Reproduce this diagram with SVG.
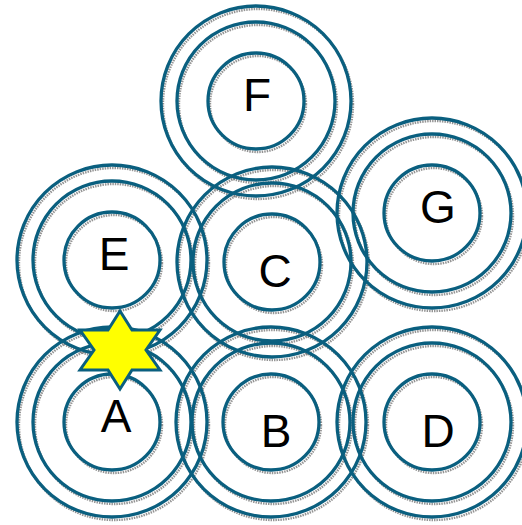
<svg xmlns="http://www.w3.org/2000/svg" xmlns:xlink="http://www.w3.org/1999/xlink" width="522" height="525" viewBox="0 0 522 525">
<style>
.ring{fill:none;stroke:#0a5f7f;stroke-width:3.3}
.shadow{fill:none;stroke:#666;stroke-width:2.4;stroke-opacity:0.7;stroke-dasharray:1.5 1}
.label{font-family:"Liberation Sans",Arial,sans-serif;font-size:46px;fill:#000;text-anchor:middle}
.star{fill:#ffff00;stroke:#0a5f7f;stroke-width:3;stroke-linejoin:miter}
</style>
<defs>
<g id="rings">
<circle r="95"/>
<circle r="79"/>
<circle r="48"/>
</g>
</defs>
<rect width="522" height="525" fill="#fff"/>
<g id="shadows">
<use xlink:href="#rings" class="shadow" transform="translate(114,425)"/>
<use xlink:href="#rings" class="shadow" transform="translate(273,425)"/>
<use xlink:href="#rings" class="shadow" transform="translate(274,265)"/>
<use xlink:href="#rings" class="shadow" transform="translate(434,425)"/>
<use xlink:href="#rings" class="shadow" transform="translate(114,263)"/>
<use xlink:href="#rings" class="shadow" transform="translate(258,104)"/>
<use xlink:href="#rings" class="shadow" transform="translate(434,216)"/>
</g>
<g id="node-A">
<use xlink:href="#rings" class="ring" transform="translate(112,422)"/>
<text class="label" x="116" y="432">A</text>
</g>
<g id="node-B">
<use xlink:href="#rings" class="ring" transform="translate(271,422)"/>
<text class="label" x="276" y="447">B</text>
</g>
<g id="node-C">
<use xlink:href="#rings" class="ring" transform="translate(272,262)"/>
<text class="label" x="275" y="287">C</text>
</g>
<g id="node-D">
<use xlink:href="#rings" class="ring" transform="translate(432,422)"/>
<text class="label" x="438" y="447">D</text>
</g>
<g id="node-E">
<use xlink:href="#rings" class="ring" transform="translate(112,260)"/>
<text class="label" x="114" y="270">E</text>
</g>
<g id="node-F">
<use xlink:href="#rings" class="ring" transform="translate(256,101)"/>
<text class="label" x="257" y="111">F</text>
</g>
<g id="node-G">
<use xlink:href="#rings" class="ring" transform="translate(432,213)"/>
<text class="label" x="438" y="223">G</text>
</g>
<g id="connectors"></g>
<g id="marker-star">
<polygon class="star" transform="translate(120,350)" points="0,-39 12,-20 40,-20 26,0 40,20 12,20 0,39 -12,20 -40,20 -26,0 -40,-20 -12,-20"/>
</g>
</svg>
